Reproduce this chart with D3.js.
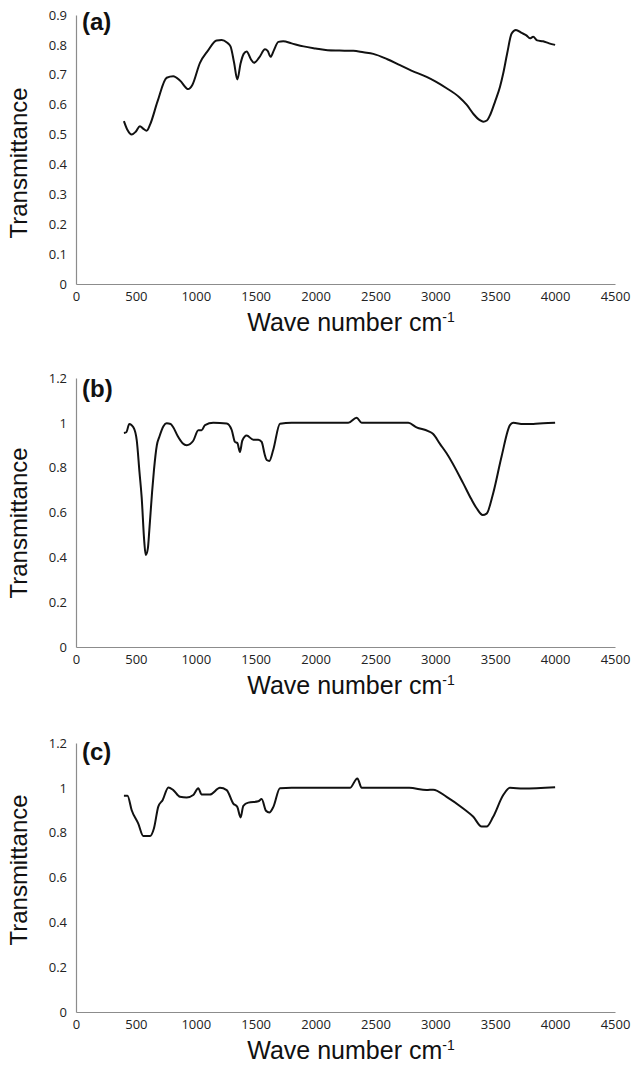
<!DOCTYPE html>
<html>
<head>
<meta charset="utf-8">
<script src="https://cdn.jsdelivr.net/npm/d3@7"></script>
<style>
  body { margin: 0; background: #fff; }
  svg { display: block; }
</style>
</head>
<body>
<div id="chart"></div>
<script>
// FTIR spectra, values
const waveA = [400, 430, 465, 500, 534, 560, 590, 620, 680, 757, 812, 870, 937, 970, 1035, 1100, 1174, 1216, 1260, 1290, 1320, 1347, 1374, 1400, 1425, 1460, 1486, 1530, 1578, 1600, 1625, 1650, 1690, 1730, 1800, 1900, 2000, 2100, 2200, 2315, 2400, 2482, 2600, 2705, 2800, 2927, 3000, 3094, 3200, 3261, 3320, 3372, 3400, 3430, 3460, 3500, 3540, 3567, 3600, 3637, 3673, 3720, 3760, 3790, 3817, 3850, 3900, 3950, 4000];
const transA = [0.545, 0.515, 0.500, 0.510, 0.528, 0.520, 0.513, 0.535, 0.610, 0.690, 0.695, 0.680, 0.652, 0.665, 0.740, 0.780, 0.815, 0.816, 0.808, 0.795, 0.740, 0.684, 0.738, 0.770, 0.778, 0.752, 0.740, 0.758, 0.785, 0.780, 0.760, 0.780, 0.810, 0.812, 0.805, 0.795, 0.788, 0.782, 0.781, 0.780, 0.775, 0.770, 0.752, 0.732, 0.714, 0.693, 0.678, 0.655, 0.625, 0.600, 0.568, 0.548, 0.543, 0.547, 0.568, 0.612, 0.660, 0.705, 0.772, 0.838, 0.850, 0.840, 0.832, 0.822, 0.827, 0.815, 0.812, 0.805, 0.800];

const waveB = [400, 420, 445, 479, 507, 530, 548, 570, 582, 600, 612, 635, 651, 675, 696, 730, 757, 790, 812, 850, 890, 924, 979, 1021, 1049, 1077, 1146, 1258, 1300, 1327, 1347, 1369, 1388, 1425, 1480, 1522, 1550, 1575, 1592, 1614, 1647, 1703, 1800, 2273, 2343, 2385, 2774, 2843, 2940, 2982, 3040, 3094, 3233, 3300, 3345, 3395, 3428, 3483, 3553, 3623, 3650, 3734, 3817, 3900, 4000];
const transB = [0.955, 0.958, 0.995, 0.980, 0.923, 0.780, 0.670, 0.470, 0.410, 0.440, 0.520, 0.690, 0.790, 0.900, 0.938, 0.985, 0.998, 0.995, 0.980, 0.940, 0.909, 0.900, 0.920, 0.967, 0.967, 0.990, 1.000, 0.997, 0.968, 0.915, 0.910, 0.870, 0.920, 0.943, 0.925, 0.925, 0.915, 0.860, 0.834, 0.830, 0.880, 0.996, 1.000, 1.000, 1.023, 1.000, 1.000, 0.980, 0.963, 0.950, 0.905, 0.864, 0.730, 0.660, 0.619, 0.589, 0.595, 0.686, 0.850, 0.990, 1.000, 0.995, 0.995, 0.998, 1.000];

const waveC = [400, 430, 465, 520, 562, 618, 651, 687, 724, 771, 812, 868, 924, 979, 1021, 1049, 1118, 1202, 1258, 1313, 1347, 1374, 1397, 1439, 1522, 1550, 1586, 1614, 1647, 1703, 1800, 2287, 2349, 2385, 2782, 2927, 2982, 3094, 3233, 3317, 3387, 3428, 3483, 3567, 3623, 3734, 4000];
const transC = [0.965, 0.965, 0.900, 0.840, 0.785, 0.785, 0.820, 0.916, 0.946, 1.002, 0.990, 0.960, 0.957, 0.968, 0.998, 0.970, 0.970, 1.000, 0.990, 0.930, 0.914, 0.868, 0.920, 0.934, 0.940, 0.950, 0.898, 0.890, 0.914, 0.998, 1.000, 1.000, 1.042, 1.000, 1.000, 0.990, 0.992, 0.960, 0.908, 0.871, 0.827, 0.827, 0.871, 0.968, 1.000, 0.997, 1.003];

const xTicks = [0, 500, 1000, 1500, 2000, 2500, 3000, 3500, 4000, 4500];
const yTicksA = [0, 0.1, 0.2, 0.3, 0.4, 0.5, 0.6, 0.7, 0.8, 0.9];
const yTicksBC = [0, 0.2, 0.4, 0.6, 0.8, 1, 1.2];
const panelLabels = ["(a)", "(b)", "(c)"];

const W = 633, H = 1070;
const left = 76, right = 615;

const panels = [
  { wave: waveA, trans: transA, yMax: 0.9, ticks: yTicksA, top: 15, bottom: 284, labelY: 30, titleY: 163 },
  { wave: waveB, trans: transB, yMax: 1.2, ticks: yTicksBC, top: 378, bottom: 647, labelY: 397, titleY: 523 },
  { wave: waveC, trans: transC, yMax: 1.2, ticks: yTicksBC, top: 743, bottom: 1012, labelY: 760, titleY: 870 }
];

const svg = d3.select("#chart").append("svg")
  .attr("width", W)
  .attr("height", H)
  .style("background", "#fff");

const x = d3.scaleLinear().domain([0, 4500]).range([left, right]);

panels.forEach((p, i) => {
  const y = d3.scaleLinear().domain([0, p.yMax]).range([p.bottom, p.top]);
  const g = svg.append("g");

  // x axis
  const xa = g.append("g")
    .attr("transform", `translate(0,${p.bottom})`)
    .call(d3.axisBottom(x).tickValues(xTicks).tickSize(0).tickPadding(8).tickFormat(d => d));

  // y axis
  const ya = g.append("g")
    .attr("transform", `translate(${left},0)`)
    .call(d3.axisLeft(y).tickValues(p.ticks).tickSize(0).tickPadding(9).tickFormat(d => d));

  [xa, ya].forEach(a => {
    a.select(".domain").attr("stroke", "#8c8c8c").attr("stroke-width", 1.2);
    a.selectAll("text")
      .attr("fill", "#222")
      .style("font-family", "'Open Sans', sans-serif")
      .style("font-size", "13px");
  });

  // spectrum
  const pts = p.wave.map((w, k) => [w, p.trans[k]]);
  g.append("path")
    .datum(pts)
    .attr("fill", "none")
    .attr("stroke", "#111")
    .attr("stroke-width", 2)
    .attr("stroke-linejoin", "round")
    .attr("d", d3.line().x(d => x(d[0])).y(d => y(d[1])).curve(d3.curveMonotoneX));

  // panel label
  g.append("text")
    .attr("x", 82)
    .attr("y", p.labelY)
    .style("font-family", "'Liberation Sans', Arial, sans-serif")
    .style("font-weight", "bold")
    .style("font-size", "24px")
    .attr("fill", "#111")
    .text(panelLabels[i]);

  // y title
  g.append("text")
    .attr("transform", `translate(27,${p.titleY}) rotate(-90)`)
    .attr("text-anchor", "middle")
    .style("font-family", "'Liberation Sans', Arial, sans-serif")
    .style("font-size", "24px")
    .attr("fill", "#111")
    .text("Transmittance");

  // x title
  const t = g.append("text")
    .attr("x", 351)
    .attr("y", p.bottom + 47)
    .attr("text-anchor", "middle")
    .style("font-family", "'Liberation Sans', Arial, sans-serif")
    .style("font-size", "25px")
    .attr("fill", "#111");
  t.append("tspan").text("Wave number cm");
  t.append("tspan").attr("dy", -9).style("font-size", "14px").text("-1");
});
</script>
</body>
</html>
